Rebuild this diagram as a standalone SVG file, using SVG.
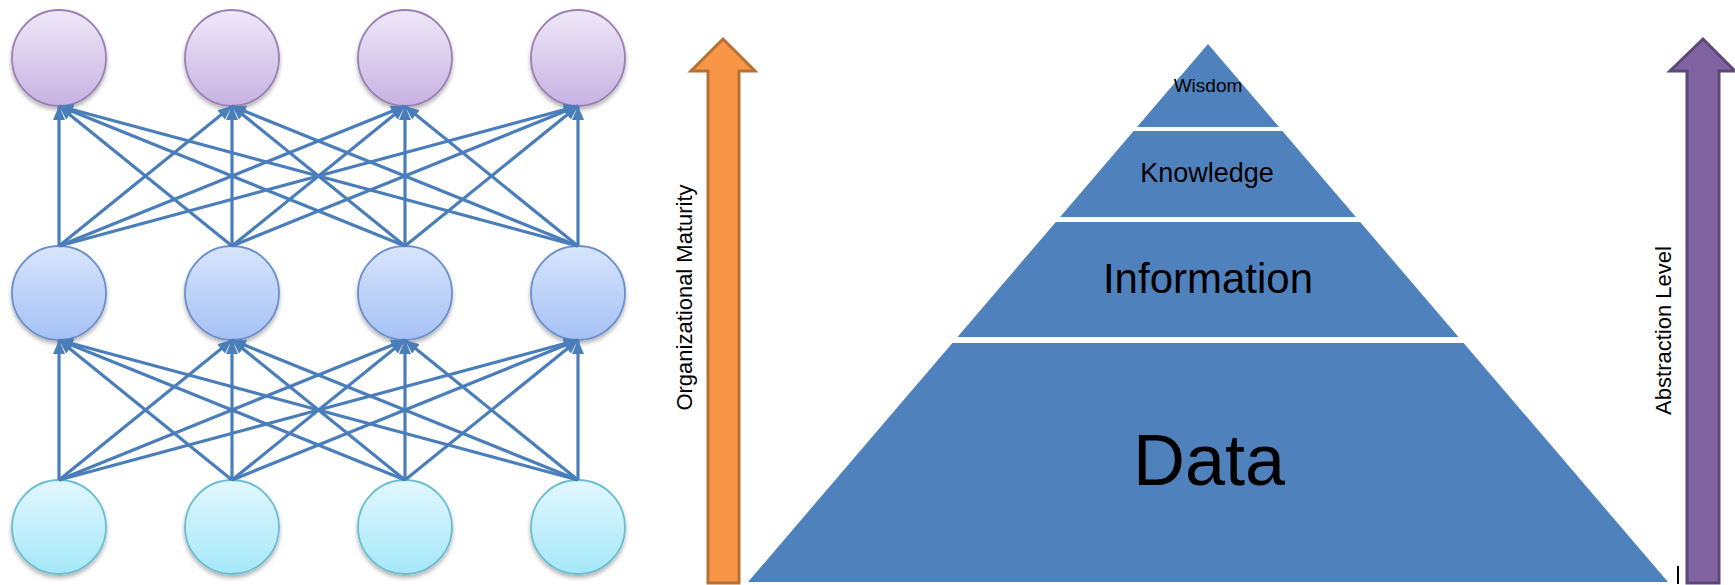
<svg xmlns="http://www.w3.org/2000/svg" width="1735" height="585" viewBox="0 0 1735 585">
<style>
.conn line{stroke:#4a7ebb;stroke-width:3.2;fill:none;marker-end:url(#ah)}
.n1{fill:url(#gTop);stroke:#9b7fb4;stroke-width:1.8;filter:url(#sh)}
.n2{fill:url(#gMid);stroke:#6b8fcb;stroke-width:1.8;filter:url(#sh)}
.n3{fill:url(#gBot);stroke:#6bbdd0;stroke-width:1.8;filter:url(#sh)}
.pyr{fill:#4f81bd}
.lbl{font-family:"Liberation Sans",Arial,sans-serif;fill:#000;text-anchor:middle}
.side{font-family:"Liberation Sans",Arial,sans-serif;fill:#000;font-size:22px;text-anchor:middle}
</style>
<defs>
<linearGradient id="gTop" x1="0" y1="0" x2="0" y2="1"><stop offset="0" stop-color="#eee8f7"/><stop offset="1" stop-color="#c7b2e2"/></linearGradient>
<linearGradient id="gMid" x1="0" y1="0" x2="0" y2="1"><stop offset="0" stop-color="#d8e5fc"/><stop offset="1" stop-color="#a5c1f5"/></linearGradient>
<linearGradient id="gBot" x1="0" y1="0" x2="0" y2="1"><stop offset="0" stop-color="#e2f7fd"/><stop offset="1" stop-color="#a5e8f9"/></linearGradient>
<filter id="sh" x="-20%" y="-20%" width="140%" height="150%"><feDropShadow dx="0" dy="3" stdDeviation="2" flood-color="#000" flood-opacity="0.3"/></filter>
<marker id="ah" markerUnits="userSpaceOnUse" markerWidth="14" markerHeight="14" refX="14" refY="6" orient="auto"><path d="M0,0 L14,6 L0,12 z" fill="#4a7ebb"/></marker>
</defs>
<rect width="1735" height="585" fill="#fff"/>

<g id="nn-top-1"><ellipse class="n1" cx="59" cy="58" rx="47" ry="48"/></g>
<g id="nn-top-2"><ellipse class="n1" cx="232" cy="58" rx="47" ry="48"/></g>
<g id="nn-top-3"><ellipse class="n1" cx="405" cy="58" rx="47" ry="48"/></g>
<g id="nn-top-4"><ellipse class="n1" cx="578" cy="58" rx="47" ry="48"/></g>
<g id="nn-mid-1"><ellipse class="n2" cx="59" cy="293" rx="47" ry="47"/></g>
<g id="nn-mid-2"><ellipse class="n2" cx="232" cy="293" rx="47" ry="47"/></g>
<g id="nn-mid-3"><ellipse class="n2" cx="405" cy="293" rx="47" ry="47"/></g>
<g id="nn-mid-4"><ellipse class="n2" cx="578" cy="293" rx="47" ry="47"/></g>
<g id="nn-bot-1"><ellipse class="n3" cx="59" cy="527" rx="47" ry="47"/></g>
<g id="nn-bot-2"><ellipse class="n3" cx="232" cy="527" rx="47" ry="47"/></g>
<g id="nn-bot-3"><ellipse class="n3" cx="405" cy="527" rx="47" ry="47"/></g>
<g id="nn-bot-4"><ellipse class="n3" cx="578" cy="527" rx="47" ry="47"/></g>

<g id="connectors" class="conn">
<line x1="59" y1="246" x2="59" y2="106"/><line x1="59" y1="246" x2="232" y2="106"/><line x1="59" y1="246" x2="405" y2="106"/><line x1="59" y1="246" x2="578" y2="106"/>
<line x1="232" y1="246" x2="59" y2="106"/><line x1="232" y1="246" x2="232" y2="106"/><line x1="232" y1="246" x2="405" y2="106"/><line x1="232" y1="246" x2="578" y2="106"/>
<line x1="405" y1="246" x2="59" y2="106"/><line x1="405" y1="246" x2="232" y2="106"/><line x1="405" y1="246" x2="405" y2="106"/><line x1="405" y1="246" x2="578" y2="106"/>
<line x1="578" y1="246" x2="59" y2="106"/><line x1="578" y1="246" x2="232" y2="106"/><line x1="578" y1="246" x2="405" y2="106"/><line x1="578" y1="246" x2="578" y2="106"/>
<line x1="59" y1="480" x2="59" y2="340"/><line x1="59" y1="480" x2="232" y2="340"/><line x1="59" y1="480" x2="405" y2="340"/><line x1="59" y1="480" x2="578" y2="340"/>
<line x1="232" y1="480" x2="59" y2="340"/><line x1="232" y1="480" x2="232" y2="340"/><line x1="232" y1="480" x2="405" y2="340"/><line x1="232" y1="480" x2="578" y2="340"/>
<line x1="405" y1="480" x2="59" y2="340"/><line x1="405" y1="480" x2="232" y2="340"/><line x1="405" y1="480" x2="405" y2="340"/><line x1="405" y1="480" x2="578" y2="340"/>
<line x1="578" y1="480" x2="59" y2="340"/><line x1="578" y1="480" x2="232" y2="340"/><line x1="578" y1="480" x2="405" y2="340"/><line x1="578" y1="480" x2="578" y2="340"/>
</g>

<g id="arrow-maturity">
<path d="M708,583 L708,71 L691,71 L723,39 L755,71 L739,71 L739,583 Z" fill="#f79646" stroke="#b86f34" stroke-width="3" stroke-linejoin="miter"/>
<text class="side" transform="translate(692,297.5) rotate(-90)">Organizational Maturity</text>
</g>

<g id="pyr-wisdom"><polygon class="pyr" points="1208,44 1279,127 1137,127"/><text class="lbl" x="1208" y="92" font-size="19">Wisdom</text></g>
<g id="pyr-knowledge"><polygon class="pyr" points="1133.6,131 1282.4,131 1355.9,217 1060.1,217"/><text class="lbl" x="1207" y="182" font-size="27">Knowledge</text></g>
<g id="pyr-information"><polygon class="pyr" points="1055.8,222 1360.2,222 1458.5,337 957.5,337"/><text class="lbl" x="1208" y="293" font-size="42">Information</text></g>
<g id="pyr-data"><polygon class="pyr" points="952.4,343 1463.6,343 1668,582 748,582"/><text class="lbl" x="1209" y="485" font-size="72">Data</text></g>

<g id="arrow-abstraction">
<path d="M1687,583 L1687,71 L1670,71 L1703,39 L1735,71 L1719,71 L1719,583 Z" fill="#8064a2" stroke="#5d4878" stroke-width="3" stroke-linejoin="miter"/>
<text class="side" transform="translate(1671,330.5) rotate(-90)">Abstraction Level</text>
</g>
<line x1="1678" y1="566" x2="1678" y2="584" stroke="#000" stroke-width="2"/>
</svg>
